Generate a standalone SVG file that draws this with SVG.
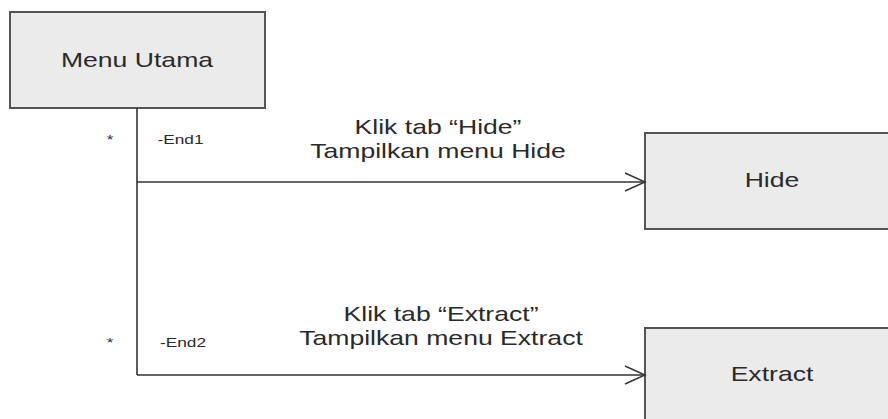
<svg xmlns="http://www.w3.org/2000/svg" width="888" height="419" viewBox="0 0 888 419">
  <style>
    .box { fill: #ebebeb; stroke: #555555; stroke-width: 2; }
    .lbl { font-family: "Liberation Sans", Arial, sans-serif; fill: #2a2a2a; text-anchor: middle; }
    .big { font-size: 20px; }
    .small { font-size: 12.5px; }
    .wire { fill: none; stroke: #333333; stroke-width: 1.6; }
    .head { fill: none; stroke: #333333; stroke-width: 1.4; }
  </style>
  <rect width="888" height="419" fill="#ffffff"/>

  <g id="menu-utama">
    <rect class="box" x="10" y="12" width="255" height="96"/>
    <text class="lbl big" transform="translate(137 67) scale(1.33 1)">Menu Utama</text>
  </g>

  <g id="hide">
    <rect class="box" x="645" y="133" width="260" height="96"/>
    <text class="lbl big" transform="translate(772 187) scale(1.33 1)">Hide</text>
  </g>

  <g id="extract">
    <rect class="box" x="645" y="328" width="260" height="110"/>
    <text class="lbl big" transform="translate(772 381) scale(1.33 1)">Extract</text>
  </g>

  <g id="connectors">
    <path class="wire" d="M137 108 V375"/>
    <path class="wire" d="M137 182 H645"/>
    <path class="head" d="M625 173 L645 182 L625 191"/>
    <path class="wire" d="M137 375 H645"/>
    <path class="head" d="M625 366 L645 375 L625 384"/>

    <text class="lbl small" transform="translate(110 144) scale(1.35 1)">*</text>
    <text class="lbl small" transform="translate(180.5 144) scale(1.38 1)">-End1</text>
    <text class="lbl big" transform="translate(438 134) scale(1.33 1)">Klik tab “Hide”</text>
    <text class="lbl big" transform="translate(438 158) scale(1.33 1)">Tampilkan menu Hide</text>

    <text class="lbl small" transform="translate(110 347) scale(1.35 1)">*</text>
    <text class="lbl small" transform="translate(183 347) scale(1.38 1)">-End2</text>
    <text class="lbl big" transform="translate(441 321) scale(1.33 1)">Klik tab “Extract”</text>
    <text class="lbl big" transform="translate(441 345) scale(1.33 1)">Tampilkan menu Extract</text>
  </g>
</svg>
